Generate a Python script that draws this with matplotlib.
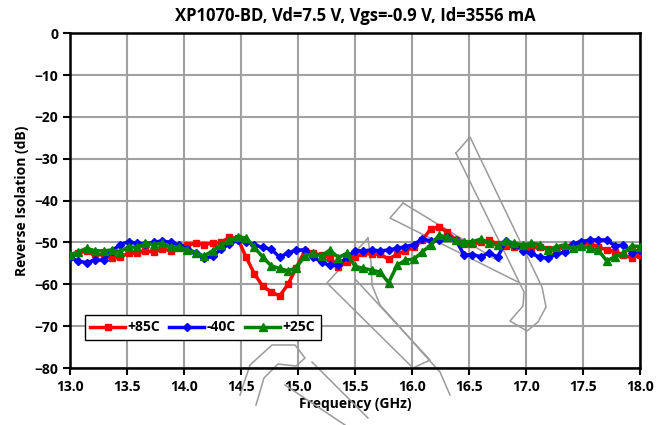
import numpy as np
import matplotlib
matplotlib.use("Agg")
from matplotlib import pyplot as plt
from matplotlib.lines import Line2D

plt.rcParams['font.family'] = ['Open Sans', 'DejaVu Sans']
plt.rcParams['font.weight'] = 'bold'

# frequency grid (GHz), 69 points across the band
freq = np.linspace(13.0, 18.0, 69)

iso_85c = [
    -53.5, -52.5, -52.0, -52.8, -53.0, -53.8, -53.5, -52.5, -52.5, -52.0,
    -52.3, -51.5, -52.0, -51.0, -50.6, -50.2, -50.5, -50.2, -50.0, -48.8,
    -49.0, -53.5, -57.5, -60.5, -61.8, -62.8, -60.0, -56.0, -52.0, -52.6,
    -53.0, -53.7, -55.9, -54.7, -53.5, -52.6, -52.8, -52.8, -54.0, -52.8,
    -52.0, -51.2, -49.5, -46.8, -46.3, -47.5, -49.4, -50.4, -50.3, -50.0,
    -49.4, -50.4, -50.8, -51.0, -51.2, -51.4, -51.0, -51.6, -51.5, -51.0,
    -50.6, -50.2, -50.3, -51.0, -51.8, -52.2, -53.0, -53.7, -53.0,
]
iso_m40c = [
    -53.5, -54.5, -54.8, -54.2, -54.2, -52.0, -50.5, -49.8, -50.2, -50.3,
    -50.0, -49.6, -50.0, -50.6, -51.5, -52.5, -53.8, -53.3, -51.6, -50.4,
    -49.5, -49.8, -50.6, -51.2, -51.6, -53.5, -52.5, -51.8, -51.8, -53.5,
    -54.7, -55.5, -55.5, -53.5, -52.0, -52.0, -51.8, -52.0, -51.8, -51.4,
    -51.0, -50.5, -49.2, -49.6, -49.5, -48.7, -49.3, -53.0, -52.9, -53.4,
    -52.5, -53.5, -49.6, -50.5, -52.0, -52.6, -53.5, -53.7, -52.8, -52.3,
    -50.3, -49.8, -49.4, -49.4, -49.4, -50.8, -50.6, -52.4, -51.8,
]
iso_25c = [
    -53.0, -52.2, -51.4, -52.0, -52.0, -51.8, -52.2, -51.0, -51.2, -50.2,
    -50.5, -50.2, -51.2, -51.0, -51.8, -52.5, -53.2, -52.0, -50.6, -49.5,
    -48.7, -48.9, -51.2, -53.5, -55.6, -56.2, -56.8, -56.0, -53.2, -52.6,
    -53.2, -51.8, -53.6, -52.6, -55.7, -56.2, -56.6, -57.1, -59.6, -55.5,
    -54.2, -54.0, -52.3, -50.6, -48.3, -48.7, -49.4, -49.8, -49.8, -49.2,
    -50.2, -50.6, -49.6, -50.2, -50.6, -50.2, -50.5, -51.8, -51.0, -50.6,
    -51.4, -50.8, -51.4, -51.8, -54.4, -53.4, -52.6, -50.8, -51.0,
]

x_ticks = np.arange(13.0, 18.01, 0.5)
y_ticks = np.arange(-80, 1, 10)

# rough outline of the background watermark, in image pixels (x right, y down)
watermark = [
    [(456, 153), (470, 137), (542, 287), (546, 307), (538, 322), (527, 331),
     (510, 321), (523, 306), (524, 292), (456, 153)],
    [(403, 203), (390, 218), (518, 282)],
    [(403, 203), (500, 262)],
    [(368, 238), (327, 283), (413, 368), (430, 360), (356, 280)],
    [(368, 238), (371, 262), (372, 285), (380, 305), (398, 325), (420, 350),
     (440, 372), (450, 395)],
    [(240, 395), (250, 365), (272, 345), (295, 345), (305, 358), (296, 366),
     (278, 364), (264, 378), (256, 405)],
    [(285, 385), (345, 425)],
    [(312, 362), (368, 418)],
]

fig = plt.figure(figsize=(6.6, 4.25), dpi=100)
ax = fig.add_axes([0.106, 0.134, 0.864, 0.788])

for path in watermark:
    px = [p[0] / 660 for p in path]
    py = [1 - p[1] / 425 for p in path]
    ax.add_line(Line2D(px, py, transform=fig.transFigure, color='#9a9a9a',
                       lw=1.1, clip_on=False, zorder=1.5))

ax.plot(freq, iso_85c, color='#ff0000', lw=2.5, marker='s', ms=5, label='+85C', zorder=3)
ax.plot(freq, iso_m40c, color='#0000ff', lw=2.5, marker='D', ms=4.5, label='-40C', zorder=3)
ax.plot(freq, iso_25c, color='#008000', lw=2.5, marker='^', ms=6, label='+25C', zorder=3)

ax.set_xlim(13.0, 18.0)
ax.set_ylim(-80, 0)
ax.set_xticks(x_ticks)
ax.set_xticklabels([f'{t:.1f}' for t in x_ticks])
ax.set_yticks(y_ticks)
ax.grid(True, color='#a0a0a0', lw=1.5)
ax.set_axisbelow(True)
for s in ax.spines.values():
    s.set_linewidth(1.8)
ax.tick_params(direction='out', length=5, width=1.5, labelsize=10)
for lbl in ax.get_xticklabels() + ax.get_yticklabels():
    lbl.set_fontweight('bold')

ax.set_xlabel('Frequency (GHz)', fontsize=10, fontweight='bold', labelpad=2)
ax.set_ylabel('Reverse Isolation (dB)', fontsize=10, fontweight='bold')
ax.set_title('XP1070-BD, Vd=7.5 V, Vgs=-0.9 V, Id=3556 mA', fontsize=12,
             fontweight='bold', pad=9)

leg = ax.legend(loc='lower left', bbox_to_anchor=(0.026, 0.084), ncol=3,
                fancybox=False, edgecolor='black', framealpha=1,
                handlelength=2.5, columnspacing=0.65, handletextpad=0.2,
                borderaxespad=0, prop={'weight': 'bold', 'size': 10})
leg.get_frame().set_linewidth(1.0)
leg.set_zorder(5)

fig.savefig('out.png', dpi=100)
